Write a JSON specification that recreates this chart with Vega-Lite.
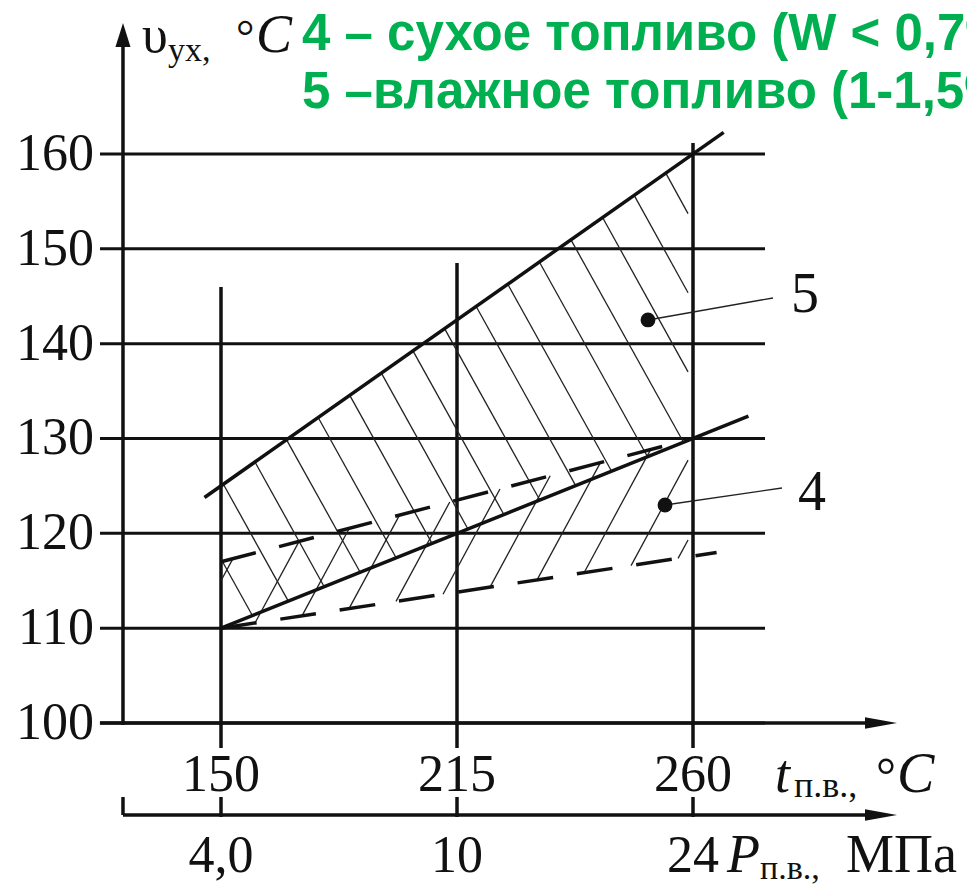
{
  "$schema": "https://vega.github.io/schema/vega-lite/v6.json",
  "width": 967,
  "height": 888,
  "autosize": {"type": "none"},
  "padding": 0,
  "background": "white",
  "config": {"view": {"stroke": null}},
  "data": {"values": [{}]},
  "datasets": {
    "grid": [{"v": 100}, {"v": 110}, {"v": 120}, {"v": 130}, {"v": 140}, {"v": 150}, {"v": 160}],
    "verticals": [
      {"u": 1, "v": 145.98, "u2": 1, "v2": 97.36},
      {"u": 2, "v": 148.5, "u2": 2, "v2": 97.36},
      {"u": 3, "v": 161.16, "u2": 3, "v2": 97.36}
    ],
    "strokes": [
      {"u": 0.487, "v": 100, "u2": 3.797, "v2": 100},
      {"u": 0.5847, "v": 90.3, "u2": 3.797, "v2": 90.3},
      {"u": 0.5847, "v": 99.8, "u2": 0.5847, "v2": 172},
      {"u": 0.5847, "v": 92.2, "u2": 0.5847, "v2": 90.3},
      {"u": 1, "v": 92.2, "u2": 1, "v2": 90.09},
      {"u": 2, "v": 92.2, "u2": 2, "v2": 90.09},
      {"u": 3, "v": 92.2, "u2": 3, "v2": 90.09},
      {"u": 0.93, "v": 123.78, "u2": 3.13, "v2": 162.28},
      {"u": 1, "v": 110, "u2": 3.235, "v2": 132.35}
    ],
    "dashed": [
      {"u": 1, "v": 117, "u2": 2.93, "v2": 129.55},
      {"u": 1, "v": 110, "u2": 3.1, "v2": 117.98}
    ],
    "hatch": [
      {"u": 1.0, "v": 117.29, "u2": 1.133, "v2": 111.33},
      {"u": 1.0101, "v": 125.18, "u2": 1.2852, "v2": 112.85},
      {"u": 1.144, "v": 127.52, "u2": 1.4374, "v2": 114.37},
      {"u": 1.2779, "v": 129.86, "u2": 1.5897, "v2": 115.9},
      {"u": 1.4118, "v": 132.21, "u2": 1.7419, "v2": 117.42},
      {"u": 1.5457, "v": 134.55, "u2": 1.8941, "v2": 118.94},
      {"u": 1.6796, "v": 136.89, "u2": 2.0463, "v2": 120.46},
      {"u": 1.8135, "v": 139.24, "u2": 2.1986, "v2": 121.99},
      {"u": 1.9474, "v": 141.58, "u2": 2.3508, "v2": 123.51},
      {"u": 2.0813, "v": 143.92, "u2": 2.503, "v2": 125.03},
      {"u": 2.2152, "v": 146.27, "u2": 2.6552, "v2": 126.55},
      {"u": 2.3491, "v": 148.61, "u2": 2.8075, "v2": 128.08},
      {"u": 2.483, "v": 150.95, "u2": 2.9597, "v2": 129.6},
      {"u": 2.6169, "v": 153.3, "u2": 2.979, "v2": 137.03},
      {"u": 2.7508, "v": 155.64, "u2": 2.979, "v2": 145.37},
      {"u": 2.8847, "v": 157.98, "u2": 2.979, "v2": 153.71},
      {"u": 1.0, "v": 115.0, "u2": 1.0506, "v2": 117.33},
      {"u": 1.144, "v": 110.55, "u2": 1.3309, "v2": 119.15},
      {"u": 1.3432, "v": 111.3, "u2": 1.5437, "v2": 120.53},
      {"u": 1.5424, "v": 112.06, "u2": 1.7565, "v2": 121.92},
      {"u": 1.7416, "v": 112.82, "u2": 1.9693, "v2": 123.3},
      {"u": 1.9408, "v": 113.58, "u2": 2.1821, "v2": 124.68},
      {"u": 2.14, "v": 114.33, "u2": 2.3949, "v2": 126.07},
      {"u": 2.3392, "v": 115.09, "u2": 2.6077, "v2": 127.45},
      {"u": 2.5384, "v": 115.85, "u2": 2.8205, "v2": 128.83},
      {"u": 2.7376, "v": 116.6, "u2": 2.979, "v2": 127.72},
      {"u": 2.9368, "v": 117.36, "u2": 2.979, "v2": 119.3}
    ],
    "leaders": [
      {"u": 2.8093, "v": 142.5, "u2": 3.339, "v2": 144.82},
      {"u": 2.8814, "v": 122.99, "u2": 3.377, "v2": 124.78}
    ],
    "dots": [{"u": 2.8093, "v": 142.5}, {"u": 2.8814, "v": 122.99}],
    "arrows": [
      {"u": 3.7966, "v": 100, "d": "r"},
      {"u": 3.7966, "v": 90.3, "d": "r"},
      {"u": 0.5847, "v": 172.55, "d": "u"}
    ],
    "xticks": [
      {"u": 1, "t": "150", "p": "4,0"},
      {"u": 2, "t": "215", "p": "10"},
      {"u": 3, "t": "260", "p": "24"}
    ]
  },
  "layer": [
    {
      "data": {"name": "grid"},
      "mark": {"type": "rule", "strokeWidth": 3, "color": "#111"},
      "encoding": {
        "x": {"datum": 0.4873, "type": "quantitative", "scale": {"domain": [0.06356, 4.16102], "nice": false, "zero": false}, "axis": null},
        "x2": {"datum": 3.3051},
        "y": {"field": "v", "type": "quantitative", "scale": {"domain": [82.601, 176.239], "nice": false, "zero": false}, "axis": null}
      }
    },
    {
      "data": {"name": "grid"},
      "mark": {"type": "text", "font": "Liberation Serif", "fontSize": 52, "align": "right", "baseline": "middle", "color": "#111"},
      "encoding": {
        "x": {"datum": 0.4619, "type": "quantitative", "scale": {"domain": [0.06356, 4.16102], "nice": false, "zero": false}, "axis": null},
        "y": {"field": "v", "type": "quantitative", "scale": {"domain": [82.601, 176.239], "nice": false, "zero": false}, "axis": null},
        "text": {"field": "v", "type": "quantitative", "format": "d"}
      }
    },
    {
      "data": {"name": "verticals"},
      "mark": {"type": "rule", "strokeWidth": 3.5, "color": "#111"},
      "encoding": {
        "x": {"field": "u", "type": "quantitative", "scale": {"domain": [0.06356, 4.16102], "nice": false, "zero": false}, "axis": null},
        "x2": {"field": "u2"},
        "y": {"field": "v", "type": "quantitative", "scale": {"domain": [82.601, 176.239], "nice": false, "zero": false}, "axis": null},
        "y2": {"field": "v2"}
      }
    },
    {
      "data": {"name": "hatch"},
      "mark": {"type": "rule", "strokeWidth": 1.3, "color": "#222"},
      "encoding": {
        "x": {"field": "u", "type": "quantitative", "scale": {"domain": [0.06356, 4.16102], "nice": false, "zero": false}, "axis": null},
        "x2": {"field": "u2"},
        "y": {"field": "v", "type": "quantitative", "scale": {"domain": [82.601, 176.239], "nice": false, "zero": false}, "axis": null},
        "y2": {"field": "v2"}
      }
    },
    {
      "data": {"name": "strokes"},
      "mark": {"type": "rule", "strokeWidth": 3.5, "color": "#111"},
      "encoding": {
        "x": {"field": "u", "type": "quantitative", "scale": {"domain": [0.06356, 4.16102], "nice": false, "zero": false}, "axis": null},
        "x2": {"field": "u2"},
        "y": {"field": "v", "type": "quantitative", "scale": {"domain": [82.601, 176.239], "nice": false, "zero": false}, "axis": null},
        "y2": {"field": "v2"}
      }
    },
    {
      "data": {"name": "dashed"},
      "mark": {"type": "rule", "strokeWidth": 3.5, "color": "#111", "strokeDash": [36, 24]},
      "encoding": {
        "x": {"field": "u", "type": "quantitative", "scale": {"domain": [0.06356, 4.16102], "nice": false, "zero": false}, "axis": null},
        "x2": {"field": "u2"},
        "y": {"field": "v", "type": "quantitative", "scale": {"domain": [82.601, 176.239], "nice": false, "zero": false}, "axis": null},
        "y2": {"field": "v2"}
      }
    },
    {
      "data": {"name": "leaders"},
      "mark": {"type": "rule", "strokeWidth": 1.4, "color": "#222"},
      "encoding": {
        "x": {"field": "u", "type": "quantitative", "scale": {"domain": [0.06356, 4.16102], "nice": false, "zero": false}, "axis": null},
        "x2": {"field": "u2"},
        "y": {"field": "v", "type": "quantitative", "scale": {"domain": [82.601, 176.239], "nice": false, "zero": false}, "axis": null},
        "y2": {"field": "v2"}
      }
    },
    {
      "data": {"name": "dots"},
      "mark": {"type": "point", "shape": "circle", "filled": true, "size": 220, "color": "#111", "opacity": 1, "strokeWidth": 0},
      "encoding": {
        "x": {"field": "u", "type": "quantitative", "scale": {"domain": [0.06356, 4.16102], "nice": false, "zero": false}, "axis": null},
        "y": {"field": "v", "type": "quantitative", "scale": {"domain": [82.601, 176.239], "nice": false, "zero": false}, "axis": null}
      }
    },
    {
      "data": {"name": "arrows"},
      "mark": {"type": "point", "filled": true, "size": 1024, "color": "#111", "opacity": 1, "strokeWidth": 0},
      "encoding": {
        "x": {"field": "u", "type": "quantitative", "scale": {"domain": [0.06356, 4.16102], "nice": false, "zero": false}, "axis": null},
        "y": {"field": "v", "type": "quantitative", "scale": {"domain": [82.601, 176.239], "nice": false, "zero": false}, "axis": null},
        "shape": {"field": "d", "type": "nominal", "scale": {"domain": ["r", "u"], "range": ["M-1,-0.36L1,0L-1,0.36Z", "M-0.47,0.75L0,-0.75L0.47,0.75Z"]}, "legend": null}
      }
    },
    {
      "data": {"name": "xticks"},
      "mark": {"type": "text", "font": "Liberation Serif", "fontSize": 52, "align": "center", "baseline": "alphabetic", "color": "#111"},
      "encoding": {
        "x": {"field": "u", "type": "quantitative", "scale": {"domain": [0.06356, 4.16102], "nice": false, "zero": false}, "axis": null},
        "y": {"datum": 92.83, "type": "quantitative", "scale": {"domain": [82.601, 176.239], "nice": false, "zero": false}, "axis": null},
        "text": {"field": "t"}
      }
    },
    {
      "data": {"name": "xticks"},
      "mark": {"type": "text", "font": "Liberation Serif", "fontSize": 52, "align": "center", "baseline": "alphabetic", "color": "#111"},
      "encoding": {
        "x": {"field": "u", "type": "quantitative", "scale": {"domain": [0.06356, 4.16102], "nice": false, "zero": false}, "axis": null},
        "y": {"datum": 84.29, "type": "quantitative", "scale": {"domain": [82.601, 176.239], "nice": false, "zero": false}, "axis": null},
        "text": {"field": "p"}
      }
    },
    {
      "mark": {"type": "text", "text": "t", "font": "Liberation Serif", "fontStyle": "italic", "fontSize": 54, "align": "left", "baseline": "alphabetic", "color": "#111"},
      "encoding": {
        "x": {"datum": 3.3475, "type": "quantitative", "scale": {"domain": [0.06356, 4.16102], "nice": false, "zero": false}, "axis": null},
        "y": {"datum": 92.72, "type": "quantitative", "scale": {"domain": [82.601, 176.239], "nice": false, "zero": false}, "axis": null}
      }
    },
    {
      "mark": {"type": "text", "text": "п.в.,", "font": "Liberation Serif", "fontSize": 36, "align": "left", "baseline": "alphabetic", "color": "#111"},
      "encoding": {
        "x": {"datum": 3.428, "type": "quantitative", "scale": {"domain": [0.06356, 4.16102], "nice": false, "zero": false}, "axis": null},
        "y": {"datum": 92.2, "type": "quantitative", "scale": {"domain": [82.601, 176.239], "nice": false, "zero": false}, "axis": null}
      }
    },
    {
      "mark": {"type": "text", "text": "°", "font": "Liberation Serif", "fontSize": 50, "align": "left", "baseline": "alphabetic", "color": "#111"},
      "encoding": {
        "x": {"datum": 3.7755, "type": "quantitative", "scale": {"domain": [0.06356, 4.16102], "nice": false, "zero": false}, "axis": null},
        "y": {"datum": 92.72, "type": "quantitative", "scale": {"domain": [82.601, 176.239], "nice": false, "zero": false}, "axis": null}
      }
    },
    {
      "mark": {"type": "text", "text": "C", "font": "Liberation Serif", "fontStyle": "italic", "fontSize": 56, "align": "left", "baseline": "alphabetic", "color": "#111"},
      "encoding": {
        "x": {"datum": 3.864, "type": "quantitative", "scale": {"domain": [0.06356, 4.16102], "nice": false, "zero": false}, "axis": null},
        "y": {"datum": 92.72, "type": "quantitative", "scale": {"domain": [82.601, 176.239], "nice": false, "zero": false}, "axis": null}
      }
    },
    {
      "mark": {"type": "text", "text": "P", "font": "Liberation Serif", "fontStyle": "italic", "fontSize": 54, "align": "left", "baseline": "alphabetic", "color": "#111"},
      "encoding": {
        "x": {"datum": 3.1441, "type": "quantitative", "scale": {"domain": [0.06356, 4.16102], "nice": false, "zero": false}, "axis": null},
        "y": {"datum": 84.29, "type": "quantitative", "scale": {"domain": [82.601, 176.239], "nice": false, "zero": false}, "axis": null}
      }
    },
    {
      "mark": {"type": "text", "text": "п.в.,", "font": "Liberation Serif", "fontSize": 34, "align": "left", "baseline": "alphabetic", "color": "#111"},
      "encoding": {
        "x": {"datum": 3.2839, "type": "quantitative", "scale": {"domain": [0.06356, 4.16102], "nice": false, "zero": false}, "axis": null},
        "y": {"datum": 83.55, "type": "quantitative", "scale": {"domain": [82.601, 176.239], "nice": false, "zero": false}, "axis": null}
      }
    },
    {
      "mark": {"type": "text", "text": "МПа", "font": "Liberation Serif", "fontSize": 54, "align": "left", "baseline": "alphabetic", "color": "#111"},
      "encoding": {
        "x": {"datum": 3.6483, "type": "quantitative", "scale": {"domain": [0.06356, 4.16102], "nice": false, "zero": false}, "axis": null},
        "y": {"datum": 84.29, "type": "quantitative", "scale": {"domain": [82.601, 176.239], "nice": false, "zero": false}, "axis": null}
      }
    },
    {
      "mark": {"type": "text", "text": "υ", "font": "Liberation Serif", "fontSize": 52, "align": "left", "baseline": "alphabetic", "color": "#111"},
      "encoding": {
        "x": {"datum": 0.6653, "type": "quantitative", "scale": {"domain": [0.06356, 4.16102], "nice": false, "zero": false}, "axis": null},
        "y": {"datum": 170.76, "type": "quantitative", "scale": {"domain": [82.601, 176.239], "nice": false, "zero": false}, "axis": null}
      }
    },
    {
      "mark": {"type": "text", "text": "ух,", "font": "Liberation Serif", "fontSize": 34, "align": "left", "baseline": "alphabetic", "color": "#111"},
      "encoding": {
        "x": {"datum": 0.7754, "type": "quantitative", "scale": {"domain": [0.06356, 4.16102], "nice": false, "zero": false}, "axis": null},
        "y": {"datum": 169.81, "type": "quantitative", "scale": {"domain": [82.601, 176.239], "nice": false, "zero": false}, "axis": null}
      }
    },
    {
      "mark": {"type": "text", "text": "°", "font": "Liberation Serif", "fontSize": 46, "align": "left", "baseline": "alphabetic", "color": "#111"},
      "encoding": {
        "x": {"datum": 1.0636, "type": "quantitative", "scale": {"domain": [0.06356, 4.16102], "nice": false, "zero": false}, "axis": null},
        "y": {"datum": 170.76, "type": "quantitative", "scale": {"domain": [82.601, 176.239], "nice": false, "zero": false}, "axis": null}
      }
    },
    {
      "mark": {"type": "text", "text": "C", "font": "Liberation Serif", "fontStyle": "italic", "fontSize": 54, "align": "left", "baseline": "alphabetic", "color": "#111"},
      "encoding": {
        "x": {"datum": 1.1483, "type": "quantitative", "scale": {"domain": [0.06356, 4.16102], "nice": false, "zero": false}, "axis": null},
        "y": {"datum": 170.76, "type": "quantitative", "scale": {"domain": [82.601, 176.239], "nice": false, "zero": false}, "axis": null}
      }
    },
    {
      "mark": {"type": "text", "text": ["4 – сухое топливо (W < 0,7%)", "5 –влажное топливо (1-1,5%)"], "font": "Liberation Sans", "fontWeight": "bold", "fontSize": 51, "lineHeight": 58, "align": "left", "baseline": "alphabetic", "color": "#00b050"},
      "encoding": {
        "x": {"datum": 1.3432, "type": "quantitative", "scale": {"domain": [0.06356, 4.16102], "nice": false, "zero": false}, "axis": null},
        "y": {"datum": 170.97, "type": "quantitative", "scale": {"domain": [82.601, 176.239], "nice": false, "zero": false}, "axis": null}
      }
    },
    {
      "mark": {"type": "text", "text": "5", "font": "Liberation Serif", "fontSize": 56, "align": "center", "baseline": "alphabetic", "color": "#111"},
      "encoding": {
        "x": {"datum": 3.4746, "type": "quantitative", "scale": {"domain": [0.06356, 4.16102], "nice": false, "zero": false}, "axis": null},
        "y": {"datum": 143.34, "type": "quantitative", "scale": {"domain": [82.601, 176.239], "nice": false, "zero": false}, "axis": null}
      }
    },
    {
      "mark": {"type": "text", "text": "4", "font": "Liberation Serif", "fontSize": 56, "align": "center", "baseline": "alphabetic", "color": "#111"},
      "encoding": {
        "x": {"datum": 3.5042, "type": "quantitative", "scale": {"domain": [0.06356, 4.16102], "nice": false, "zero": false}, "axis": null},
        "y": {"datum": 122.46, "type": "quantitative", "scale": {"domain": [82.601, 176.239], "nice": false, "zero": false}, "axis": null}
      }
    }
  ]
}
